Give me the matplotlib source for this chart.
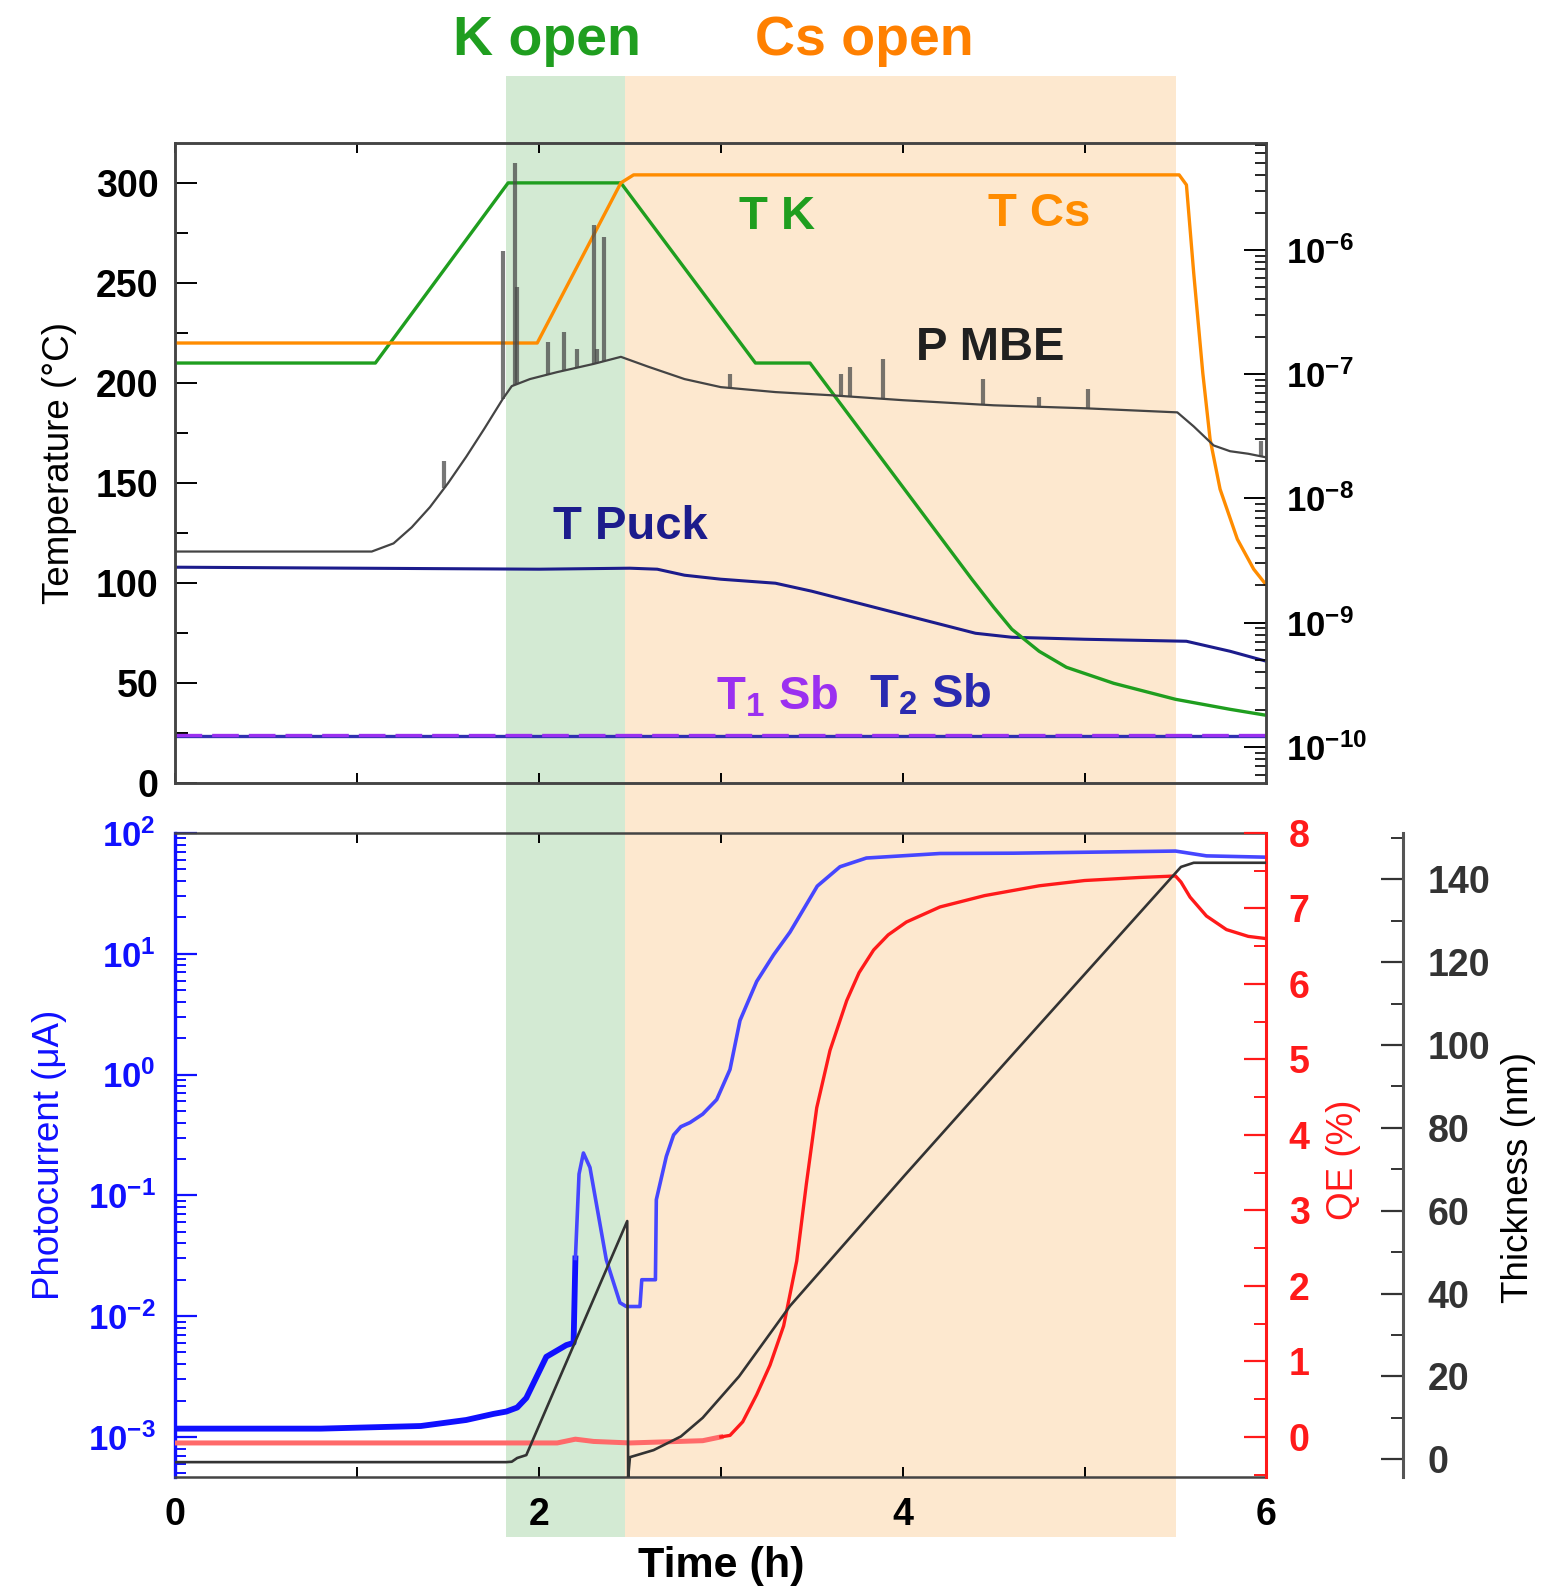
import numpy as np
import matplotlib.pyplot as plt
from matplotlib.patches import Rectangle
from matplotlib.transforms import blended_transform_factory
from matplotlib.ticker import MultipleLocator, LogLocator, FuncFormatter, NullFormatter

plt.rcParams['font.family'] = ['Liberation Sans', 'DejaVu Sans']
plt.rcParams['mathtext.default'] = 'regular'

# ---------------- top panel data ----------------
tk_time = [0, 1.1, 1.83, 2.45, 3.19, 3.49, 4.38, 4.5, 4.6, 4.75, 4.9, 5.16, 5.5, 5.8, 6.0]
tk_temp = [210, 210, 300, 300, 210, 210, 102, 88, 77, 66, 58, 50, 42, 37, 34]

tcs_time = [0, 1.99, 2.45, 2.52, 5.52, 5.56, 5.6, 5.65, 5.69, 5.745, 5.84, 5.93, 6.0]
tcs_temp = [220, 220, 300, 304, 304, 299, 255, 205, 172, 147, 122, 107, 99]

puck_time = [0, 1.0, 2.0, 2.5, 2.65, 2.8, 3.0, 3.3, 3.5, 3.8, 4.1, 4.4, 4.6, 5.0, 5.56, 5.8, 6.0]
puck_temp = [108, 107.5, 107, 107.5, 107, 104, 102, 100, 96, 89, 82, 75, 73, 72, 71, 66, 61]

sb_time = [0, 6]
sb1_temp = [24, 24]
sb2_temp = [23.5, 23.5]

# MBE pressure (Torr), base curve
p_time = [0, 1.08, 1.2, 1.3, 1.4, 1.5, 1.6, 1.7, 1.8, 1.85, 1.95, 2.1, 2.3, 2.45,
          2.6, 2.8, 3.0, 3.3, 3.6, 4.0, 4.5, 5.0, 5.51, 5.6, 5.71, 5.8, 5.9, 6.0]
p_val = [3.74e-9, 3.74e-9, 4.35e-9, 5.86e-9, 8.51e-9, 1.33e-8, 2.17e-8, 3.66e-8, 6.30e-8,
         8.02e-8, 9.14e-8, 1.04e-7, 1.21e-7, 1.38e-7, 1.15e-7, 9.14e-8, 7.87e-8, 7.18e-8,
         6.78e-8, 6.18e-8, 5.62e-8, 5.32e-8, 4.93e-8, 3.8e-8, 2.67e-8, 2.4e-8, 2.29e-8, 2.14e-8]
# pressure bursts (time, peak Torr)
spike_time = [1.48, 1.80, 1.868, 1.877, 2.05, 2.14, 2.21, 2.30, 2.32, 2.36,
              3.05, 3.66, 3.71, 3.89, 4.44, 4.75, 5.02, 5.97]
spike_peak = [2.0e-8, 9.8e-7, 5.0e-6, 5.0e-7, 1.8e-7, 2.2e-7, 1.6e-7, 1.6e-6, 1.6e-7, 1.26e-6,
              1.0e-7, 1.0e-7, 1.15e-7, 1.32e-7, 9.1e-8, 6.5e-8, 7.6e-8, 2.92e-8]

# ---------------- bottom panel data ----------------
pc_time = [0, 0.8, 1.35, 1.6, 1.75, 1.82, 1.88, 1.93, 1.96, 2.04, 2.15, 2.19,
           2.20, 2.22, 2.244, 2.28, 2.37, 2.445, 2.48, 2.555, 2.565, 2.64, 2.645, 2.70,
           2.74, 2.78, 2.83, 2.9, 2.977, 3.05, 3.105, 3.197, 3.29, 3.38, 3.53, 3.655,
           3.8, 4.205, 4.61, 5.5, 5.67, 6.0]
pc_val = [1.17e-3, 1.17e-3, 1.23e-3, 1.38e-3, 1.55e-3, 1.62e-3, 1.75e-3, 2.1e-3, 2.6e-3, 4.6e-3,
          5.75e-3, 6.0e-3, 3.0e-2, 0.15, 0.224, 0.17, 0.0292, 0.0129, 0.012, 0.012, 0.020,
          0.020, 0.092, 0.21, 0.316, 0.37, 0.40, 0.47, 0.62, 1.1, 2.8, 5.9, 9.8, 15.1, 36.3,
          52.5, 62, 67.6, 68, 70.8, 64.6, 63]

qe_time = [0, 2.1, 2.2, 2.3, 2.5, 2.9, 3.0, 3.05, 3.12, 3.197, 3.27, 3.345, 3.417, 3.47,
           3.527, 3.6, 3.692, 3.76, 3.84, 3.92, 4.02, 4.205, 4.45, 4.75, 5.0, 5.3,
           5.5, 5.53, 5.58, 5.67, 5.78, 5.9, 6.0]
qe_val = [-0.08, -0.08, -0.03, -0.06, -0.08, -0.05, 0.0, 0.02, 0.2, 0.56, 0.95, 1.47, 2.33, 3.35,
          4.36, 5.12, 5.78, 6.15, 6.45, 6.65, 6.82, 7.02, 7.17, 7.3, 7.37, 7.41,
          7.43, 7.35, 7.15, 6.9, 6.72, 6.63, 6.6]

th_time = [0, 1.82, 1.85, 1.88, 1.93, 2.485, 2.49, 2.5, 2.63, 2.78, 2.9, 3.0, 3.1,
           3.38, 4.01, 4.61, 5.53, 5.6, 6.0]
th_val = [-0.7, -0.7, -0.6, 0.3, 1.0, 57.5, -4.4, 0.5, 2.2, 5.5, 10, 15, 20,
          37, 68.5, 98, 143, 144, 144]

shade_spans = [(1.82, 2.47), (2.47, 5.5)]
shade_colors = ['#d3ead3', '#fde8cf']

fig = plt.figure(figsize=(15.42, 15.89), dpi=100)
ax1 = fig.add_axes([0.1137, 0.5070, 0.7076, 0.4031], facecolor='none')
ax2 = fig.add_axes([0.1137, 0.0702, 0.7076, 0.4056], facecolor='none')

trans = blended_transform_factory(ax2.transData, fig.transFigure)
for (x0, x1), col in zip(shade_spans, shade_colors):
    fig.add_artist(Rectangle((x0, 0.0325), x1 - x0, 0.9522 - 0.0325, transform=trans,
                             facecolor=col, edgecolor='none', zorder=-1))

tick_font = dict(labelsize=27)
spine_col = '#444444'
ann = dict(fontsize=34, fontweight='bold', ha='center', va='baseline')


def bold_labels(ax, which='y'):
    labs = ax.get_yticklabels() if which == 'y' else ax.get_xticklabels()
    for lab in labs:
        lab.set_fontweight('bold')


# ---- top panel ----
ax1.plot(sb_time, sb2_temp, color='#3030b0', lw=2.4)
ax1.plot(sb_time, sb1_temp, color='#9b30f0', lw=2.4, dashes=(8, 3))
ax1.plot(puck_time, puck_temp, color='#1c1c8c', lw=2.2)
ax1.plot(tk_time, tk_temp, color='#1f9e1f', lw=2.4, zorder=4)
ax1.plot(tcs_time, tcs_temp, color='#ff8c00', lw=2.4, zorder=4)
ax1.set_xlim(0, 6)
ax1.set_ylim(0, 320)
ax1.yaxis.set_major_locator(MultipleLocator(50))
ax1.yaxis.set_minor_locator(MultipleLocator(25))
ax1.set_xticks(range(7))
ax1.tick_params(axis='y', which='major', direction='in', length=16, width=1.4, pad=12, **tick_font)
ax1.tick_params(axis='y', which='minor', direction='in', length=9, width=1.4)
ax1.tick_params(axis='y', right=False, which='both')
ax1.tick_params(axis='x', direction='in', length=7, width=1.4, top=True, labelbottom=False)
bold_labels(ax1)
ax1.set_ylabel('Temperature (°C)', fontsize=26.5)
ax1.yaxis.set_label_coords(-0.0905, 0.5)
for s in ax1.spines.values():
    s.set_color(spine_col)
    s.set_linewidth(1.8)

ax1r = ax1.twinx()
ax1r.set_yscale('log')
ax1r.set_ylim(10 ** -10.293, 10 ** -5.138)
spike_base = 10 ** np.interp(spike_time, p_time, np.log10(p_val))
ax1r.vlines(spike_time, spike_base, spike_peak, color='#4a4a4a', lw=3, alpha=0.75)
ax1r.plot(p_time, p_val, color='#444444', lw=1.6)
ax1r.yaxis.set_major_locator(LogLocator(base=10, numticks=20))
ax1r.yaxis.set_minor_locator(LogLocator(base=10, subs=np.arange(2, 10), numticks=100))
ax1r.yaxis.set_minor_formatter(NullFormatter())
ax1r.yaxis.set_major_formatter(FuncFormatter(lambda v, p: r'$10^{%d}$' % round(np.log10(v))))
ax1r.tick_params(axis='y', which='major', direction='in', length=16, width=1.4, pad=14, labelsize=25)
ax1r.tick_params(axis='y', which='minor', direction='in', length=8, width=1.2)
bold_labels(ax1r)
for s in ax1r.spines.values():
    s.set_color(spine_col)
    s.set_linewidth(1.8)

ax1.text(3.31, 277, 'T K', color='#1f9e1f', **ann)
ax1.text(4.75, 278.7, 'T Cs', color='#ff8c00', **ann)
ax1.text(4.48, 211.4, 'P MBE', color='#202020', **ann)
ax1.text(2.50, 121.9, 'T Puck', color='#1c1c8c', **ann)
ax1.text(3.31, 36.9, r'T$_1$ Sb', color='#9b30f0', **ann)
ax1.text(4.15, 37.9, r'T$_2$ Sb', color='#2a2ab0', **ann)

fig.text(547 / 1542, 1 - 41 / 1589, 'K open', color='#1f9e1f', fontsize=40,
         fontweight='bold', ha='center', va='center')
fig.text(864 / 1542, 1 - 41 / 1589, 'Cs open', color='#ff8000', fontsize=40,
         fontweight='bold', ha='center', va='center')

# ---- bottom panel ----
blue = '#1010ff'
split = pc_time.index(2.20)
ax2.plot(pc_time[:split + 1], pc_val[:split + 1], color=blue, lw=4.2)
ax2.plot(pc_time[split:], pc_val[split:], color='#4646ff', lw=2.6)
ax2.set_yscale('log')
ax2.set_xlim(0, 6)
ax2.set_ylim(10 ** -3.336, 100)
ax2.yaxis.set_major_locator(LogLocator(base=10, numticks=20))
ax2.yaxis.set_minor_locator(LogLocator(base=10, subs=np.arange(2, 10), numticks=100))
ax2.yaxis.set_minor_formatter(NullFormatter())
ax2.yaxis.set_major_formatter(FuncFormatter(lambda v, p: r'$10^{%d}$' % round(np.log10(v))))
ax2.tick_params(axis='y', which='major', direction='in', length=16, width=1.6, pad=14,
                colors=blue, labelsize=25)
ax2.tick_params(axis='y', which='minor', direction='in', length=8, width=1.4, colors=blue)
ax2.tick_params(axis='y', which='both', right=False)
ax2.set_xticks(range(7))
ax2.set_xticklabels(['0', '', '2', '', '4', '', '6'])
ax2.tick_params(axis='x', direction='in', length=7, width=1.4, top=True, pad=14, **tick_font)
bold_labels(ax2)
bold_labels(ax2, 'x')
ax2.set_ylabel('Photocurrent (μA)', fontsize=26.5, color=blue)
ax2.yaxis.set_label_coords(-0.099, 0.5)
ax2.set_xlabel('Time (h)', fontsize=31, fontweight='bold')
ax2.xaxis.set_label_coords(0.5, -0.107)
for s in ax2.spines.values():
    s.set_color(spine_col)
    s.set_linewidth(1.8)
ax2.spines['left'].set_color(blue)
ax2.spines['left'].set_linewidth(2.4)
ax2.spines['right'].set_visible(False)

red = '#ff1a1a'
ax2q = ax2.twinx()
qsplit = qe_time.index(3.0)
ax2q.plot(qe_time[:qsplit + 1], qe_val[:qsplit + 1], color='#ff6a6a', lw=3.6)
ax2q.plot(qe_time[qsplit:], qe_val[qsplit:], color=red, lw=2.4)
ax2q.set_ylim(-0.537, 8)
ax2q.yaxis.set_major_locator(MultipleLocator(1))
ax2q.yaxis.set_minor_locator(MultipleLocator(0.5))
ax2q.tick_params(axis='y', which='major', direction='in', length=16, width=1.6, pad=16,
                 colors=red, **tick_font)
ax2q.tick_params(axis='y', which='minor', direction='in', length=9, width=1.4, colors=red)
bold_labels(ax2q)
ax2q.set_ylabel('QE (%)', fontsize=26.5, color=red)
ax2q.yaxis.set_label_coords(1.055, 0.493)
for k in ['left', 'top', 'bottom']:
    ax2q.spines[k].set_visible(False)
ax2q.spines['right'].set_color(red)
ax2q.spines['right'].set_linewidth(2.2)

ax2t = ax2.twinx()
ax2t.plot(th_time, th_val, color='#333333', lw=1.9)
ax2t.set_ylim(-4.4, 151.2)
ax2t.spines['right'].set_position(('axes', 1.125))
for k in ['left', 'top', 'bottom']:
    ax2t.spines[k].set_visible(False)
ax2t.spines['right'].set_color('#555555')
ax2t.spines['right'].set_linewidth(2.2)
ax2t.yaxis.set_major_locator(MultipleLocator(20))
ax2t.yaxis.set_minor_locator(MultipleLocator(10))
ax2t.tick_params(axis='y', which='major', direction='in', length=16, width=1.6, pad=18,
                 colors='#333333', **tick_font)
ax2t.tick_params(axis='y', which='minor', direction='in', length=9, width=1.4, colors='#333333')
bold_labels(ax2t)
ax2t.set_ylabel('Thickness (nm)', fontsize=26.5)
ax2t.yaxis.set_label_coords(1.215, 0.465)

fig.savefig('out.png', dpi=100)
